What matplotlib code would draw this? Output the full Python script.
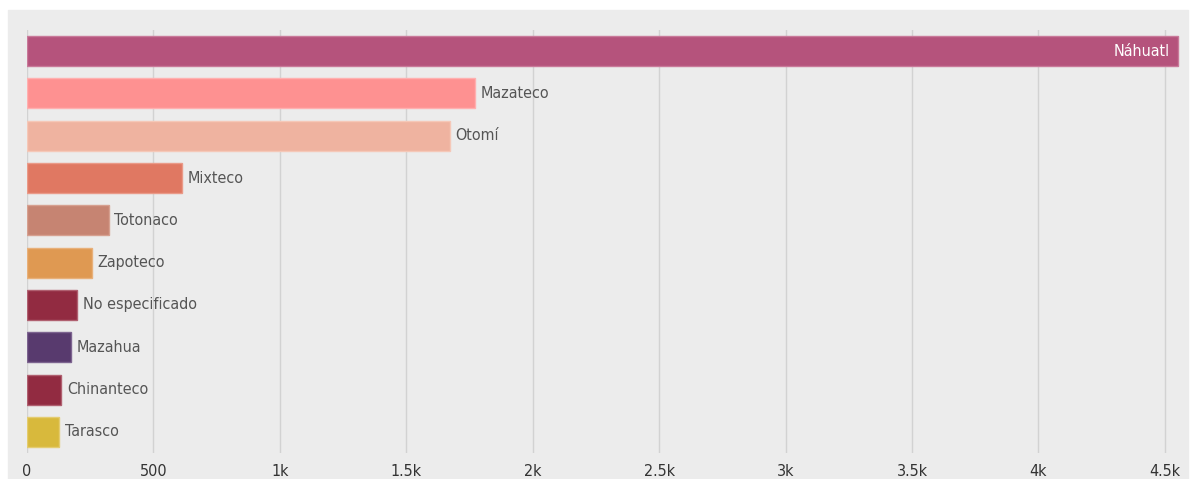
import matplotlib.pyplot as plt
from matplotlib.patches import Rectangle
from matplotlib.ticker import FuncFormatter

languages = ["Náhuatl", "Mazateco", "Otomí", "Mixteco", "Totonaco",
             "Zapoteco", "No especificado", "Mazahua", "Chinanteco", "Tarasco"]
speakers = [4551, 1771, 1673, 613, 324, 257, 199, 174, 136, 127]
colors = ["#b5537c", "#fe9191", "#efb3a0", "#e07862", "#c68472",
          "#df9952", "#922b41", "#583a6e", "#922b41", "#d8b93c"]
edges = ["#c97a9a", "#ffb0b0", "#f5c8b8", "#ea9a88", "#d6a090",
         "#e8b07a", "#b06070", "#7d6490", "#b06070", "#e4cc70"]
ticks = [0, 500, 1000, 1500, 2000, 2500, 3000, 3500, 4000, 4500]

plt.rcParams['font.family'] = ['DejaVu Sans']
plt.rcParams['font.stretch'] = 'condensed'

fig = plt.figure(figsize=(11.96, 4.79), dpi=100)
bg = Rectangle((8 / 1196, 0), 1180 / 1196, 469 / 479,
               transform=fig.transFigure, color="#ececec", zorder=-10)
fig.patches.append(bg)

ax = fig.add_axes([27 / 1196, 26 / 479, 1153 / 1196, 423 / 479])
ax.set_facecolor("none")
ax.set_zorder(1)

y = list(range(len(languages)))
ax.barh(y, speakers, height=0.71, color=colors, edgecolor=edges, linewidth=1, zorder=3)

for i, (name, val) in enumerate(zip(languages, speakers)):
    if i == 0:
        ax.annotate(name, (val, i), xytext=(-6, 0), textcoords="offset points",
                    ha="right", va="center", color="white", fontsize=11.5,
                    fontstretch="condensed", zorder=4)
    else:
        ax.annotate(name, (val, i), xytext=(4, 0), textcoords="offset points",
                    ha="left", va="center", color="#555555", fontsize=11.5,
                    fontstretch="condensed", zorder=4)

ax.set_xlim(0, 4560)
ax.set_ylim(9.5, -0.5)
ax.set_xticks(ticks)


def fmt(v, pos):
    if v == 0:
        return "0"
    if v < 1000:
        return str(int(v))
    return ("%g" % (v / 1000)) + "k"


ax.xaxis.set_major_formatter(FuncFormatter(fmt))
ax.set_yticks([])
ax.grid(axis="x", color="#d2d2d2", linewidth=1, zorder=0)
ax.tick_params(axis="x", length=0, pad=8, labelsize=11.5, labelcolor="#333333")
for lbl in ax.get_xticklabels():
    lbl.set_fontstretch("condensed")
for s in ax.spines.values():
    s.set_visible(False)

fig.savefig("out.png", dpi=100)
